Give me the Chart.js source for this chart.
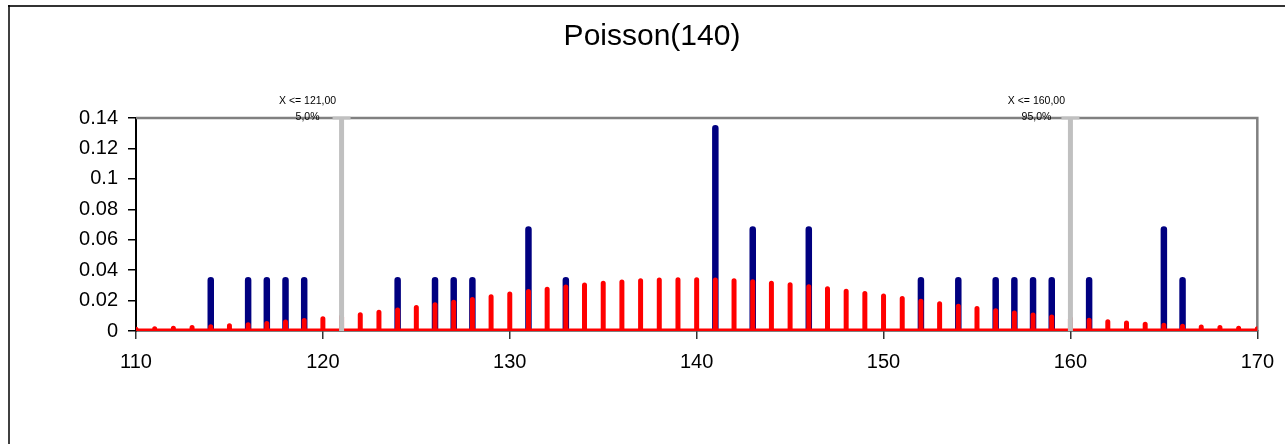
<!DOCTYPE html>
<html><head><meta charset="utf-8">
<script src="https://cdn.jsdelivr.net/npm/chart.js@4"></script>
<style>html,body{margin:0;padding:0;background:#fff}#wrap{width:1285px;height:444px;position:relative}</style>
</head><body><div id="wrap"><canvas id="c" width="1285" height="444"></canvas></div>
<script>
const chartTitle = "Poisson(140)";
const xTicks = [110, 120, 130, 140, 150, 160, 170];
const yTicks = [0, 0.02, 0.04, 0.06, 0.08, 0.1, 0.12, 0.14];
const redX = [110,111,112,113,114,115,116,117,118,119,120,121,122,123,124,125,126,127,128,129,130,131,132,133,134,135,136,137,138,139,140,141,142,143,144,145,146,147,148,149,150,151,152,153,154,155,156,157,158,159,160,161,162,163,164,165,166,167,168,169,170];
const redY = [0.00118,0.00149,0.00186,0.00231,0.00283,0.00345,0.00416,0.00498,0.00591,0.00695,0.00811,0.00938,0.01076,0.01225,0.01383,0.01549,0.01721,0.01897,0.02075,0.02252,0.02425,0.02592,0.02749,0.02894,0.03023,0.03135,0.03228,0.03298,0.03346,0.03370,0.03370,0.03346,0.03299,0.03230,0.03140,0.03032,0.02907,0.02769,0.02619,0.02461,0.02297,0.02130,0.01962,0.01795,0.01632,0.01474,0.01323,0.01180,0.01045,0.00920,0.00805,0.00700,0.00605,0.00520,0.00444,0.00376,0.00318,0.00266,0.00222,0.00184,0.00151];
const blueX = [114,116,117,118,119,124,126,127,128,131,133,141,143,146,152,154,156,157,158,159,161,165,166];
const blueY = [0.0333,0.0333,0.0333,0.0333,0.0333,0.0333,0.0333,0.0333,0.0333,0.0667,0.0333,0.1333,0.0667,0.0667,0.0333,0.0333,0.0333,0.0333,0.0333,0.0333,0.0333,0.0667,0.0333];
const markerX = [121, 160];
const markerTop = [0.14, 0.14];
const markerLabel = ["X <= 121,00", "X <= 160,00"];
const markerPct = ["5,0%", "95,0%"];

const FONT = '"Liberation Sans", Arial, sans-serif';

const redPts = [];
redX.forEach((x, i) => { redPts.push({x: x, y: 0}, {x: x, y: redY[i]}, {x: x, y: 0}); });
const bluePts = [];
blueX.forEach((x, i) => { bluePts.push({x: x, y: 0}, {x: x, y: blueY[i]}, {x: x, y: null}); });

const markerSets = markerX.map((x, i) => ({
  type: 'line',
  data: [{x: x, y: 0}, {x: x, y: markerTop[i]}],
  borderColor: '#C0C0C0', borderWidth: 5, borderCapStyle: 'butt',
  pointRadius: [0, 9], pointStyle: 'line', pointBorderWidth: 3,
  pointBorderColor: '#C0C0C0', pointBackgroundColor: '#C0C0C0',
  order: 0, clip: false
}));

const decor = {
  id: 'decor',
  beforeDraw(chart) {
    const ctx = chart.ctx;
    ctx.save();
    ctx.fillStyle = '#fff';
    ctx.fillRect(0, 0, chart.width, chart.height);
    ctx.strokeStyle = '#333';
    ctx.lineWidth = 2;
    ctx.beginPath(); ctx.moveTo(8, 6); ctx.lineTo(chart.width, 6); ctx.stroke();
    ctx.strokeStyle = '#000';
    ctx.lineWidth = 1.5;
    ctx.beginPath(); ctx.moveTo(9, 5); ctx.lineTo(9, chart.height); ctx.stroke();
    ctx.fillStyle = '#000';
    ctx.font = '30px ' + FONT;
    ctx.textAlign = 'center'; ctx.textBaseline = 'alphabetic';
    ctx.fillText(chartTitle, 652, 45);
    ctx.restore();
  },
  beforeDatasetsDraw(chart) {
    const ctx = chart.ctx, a = chart.chartArea;
    ctx.save();
    ctx.strokeStyle = '#808080';
    ctx.lineWidth = 2.5;
    ctx.beginPath();
    ctx.moveTo(a.left, a.top); ctx.lineTo(a.right, a.top); ctx.lineTo(a.right, a.bottom);
    ctx.stroke();
    ctx.restore();
  },
  afterDraw(chart) {
    const ctx = chart.ctx, xs = chart.scales.x, ys = chart.scales.y;
    ctx.save();
    ctx.fillStyle = '#000';
    ctx.font = '10.5px ' + FONT;
    ctx.textAlign = 'center'; ctx.textBaseline = 'middle';
    markerX.forEach((x, i) => {
      const px = xs.getPixelForValue(x);
      const py = ys.getPixelForValue(markerTop[i]);
      ctx.fillText(markerLabel[i], px - 34, py - 17);
      ctx.fillText(markerPct[i], px - 34, py - 1);
    });
    ctx.restore();
  }
};

new Chart(document.getElementById('c'), {
  type: 'line',
  data: {
    datasets: [
      ...markerSets,
      { data: redPts, borderColor: '#FF0000', borderWidth: 5, borderJoinStyle: 'round', borderCapStyle: 'round', pointRadius: 0, order: 1 },
      { data: bluePts, borderColor: '#000080', borderWidth: 6.5, borderCapStyle: 'round', pointRadius: 0, spanGaps: false, order: 2 }
    ]
  },
  options: {
    responsive: false, animation: false, devicePixelRatio: 1,
    layout: { padding: { top: 118, right: 24, left: 0, bottom: 0 } },
    plugins: { legend: { display: false }, title: { display: false }, tooltip: { enabled: false } },
    scales: {
      x: {
        type: 'linear', min: 110, max: 170,
        afterBuildTicks: s => { s.ticks = xTicks.map(v => ({value: v})); },
        afterFit: s => { s.height = 113; },
        ticks: { color: '#000', font: { size: 20, family: FONT }, padding: 11, maxRotation: 0, autoSkip: false },
        grid: { drawOnChartArea: false, drawTicks: true, tickLength: 8, color: '#333', lineWidth: 1.5 },
        border: { display: true, color: '#000', width: 1.5 }
      },
      y: {
        min: 0, max: 0.14,
        afterBuildTicks: s => { s.ticks = yTicks.map(v => ({value: v})); },
        afterFit: s => { s.width = 136; },
        ticks: { color: '#000', font: { size: 20, family: FONT }, padding: 10,
          callback: v => String(Number(v.toFixed(2))) },
        grid: { drawOnChartArea: false, drawTicks: true, tickLength: 8, color: '#000', lineWidth: 1.5 },
        border: { display: true, color: '#000', width: 2 }
      }
    }
  },
  plugins: [decor]
});
</script></body></html>
